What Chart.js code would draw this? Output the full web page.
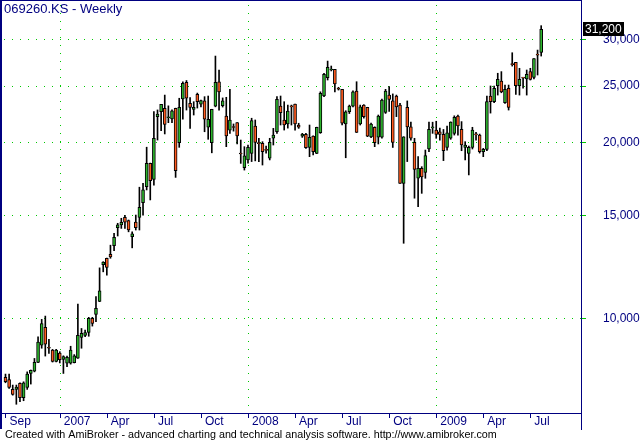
<!DOCTYPE html>
<html>
<head>
<meta charset="utf-8">
<title>069260.KS - Weekly</title>
<script src="https://cdn.jsdelivr.net/npm/chart.js@4.4.0/dist/chart.umd.min.js"></script>
<style>
  html, body { margin: 0; padding: 0; background: #ffffff; }
  #wrap { width: 642px; height: 443px; }
</style>
</head>
<body>
<div id="wrap"><canvas id="myChart" width="642" height="443"></canvas></div>
<script>
let chart_title = '069260.KS - Weekly';
let footer_text = 'Created with AmiBroker - advanced charting and technical analysis software. http://www.amibroker.com';

// weekly bars, mid Sep 2006 to Jul 2009
let opens = [
  7930, 7860, 7560, 7560, 7740, 7320, 7620, 8050, 8120, 8410,
  9000, 9650, 8920, 8830, 8440, 8720, 8510, 8380, 8380, 8400,
  8550, 9280, 9350, 9460, 10000, 10160, 10690, 12350, 12670, 12870,
  13310, 14290, 14450, 14880, 14690, 13790, 14610, 14880, 15770, 16800,
  18420, 17290, 22130, 22570, 22870, 22030, 21930, 22870, 19970, 23720,
  25330, 23320, 22770, 24160, 23250, 23540, 21220, 19970, 23070, 25390,
  23100, 22180, 20990, 21240, 21610, 19150, 18100, 18660, 19140, 21330,
  19950, 19920, 19400, 18790, 20320, 20850, 23070, 21840, 21500, 23020,
  23250, 21410, 20500, 20640, 19610, 20500, 19140, 20770, 24020, 25790,
  26590, 26660, 24740, 24640, 21500, 22560, 23070, 24470, 21500, 23160,
  22950, 20440, 21220, 20400, 20400, 22500, 24090, 23540, 24000, 23160,
  17020, 22950, 21250, 20000, 17360, 18050, 17770, 19480, 21170, 20990,
  20850, 20640, 19610, 20320, 20720, 22180, 21050, 19610, 19140, 19610,
  20640, 20580, 19270, 19450, 24000, 23470, 25000, 25460, 23370, 24740,
  27200, 27400, 25000, 25790, 25660, 26420, 25830, 28240, 28500
];
let highs = [
  8030, 8030, 7690, 7690, 7760, 7790, 8100, 8160, 8540, 9300,
  9960, 10090, 9210, 8850, 8850, 8770, 8630, 8620, 8960, 8670,
  10580, 9610, 9550, 10040, 10040, 10890, 12200, 12500, 12680, 13340,
  13970, 14540, 14830, 15000, 14730, 14060, 15020, 16760, 17010, 19620,
  18430, 22570, 22720, 23230, 24090, 23090, 22720, 22880, 23790, 25390,
  25510, 23850, 23470, 24280, 23630, 23940, 24000, 22780, 28090, 26590,
  23820, 23880, 24640, 21500, 21620, 20180, 19660, 19790, 21990, 21840,
  20320, 20050, 19710, 20320, 21130, 23940, 24000, 23470, 23160, 23160,
  23260, 21560, 20720, 20720, 21410, 20510, 21230, 24400, 26250, 27540,
  27010, 26670, 24840, 24650, 22650, 23160, 24500, 25390, 23160, 23200,
  22960, 21580, 21260, 22270, 23720, 24640, 24900, 24200, 24090, 23320,
  20450, 23540, 21650, 20320, 18900, 18170, 19400, 21650, 21650, 21730,
  21150, 21040, 21330, 21680, 22200, 22270, 21700, 20050, 19710, 21220,
  20800, 20660, 19530, 24000, 24970, 24970, 26250, 26420, 25060, 25060,
  28460, 27410, 26770, 25800, 26590, 26770, 27810, 28760, 31660
];
let lows = [
  7760, 7590, 7390, 7130, 7200, 7230, 7560, 7720, 8100, 8400,
  8890, 8620, 8710, 8420, 8420, 8390, 8050, 8270, 8350, 8390,
  8540, 8890, 9300, 9320, 9700, 9870, 10680, 12010, 11850, 12670,
  13050, 13830, 14250, 14250, 14060, 13200, 14160, 14160, 15020, 16580,
  15940, 16900, 20180, 20940, 20670, 21610, 21610, 17420, 19610, 21900,
  22710, 21130, 22270, 22890, 23000, 20850, 20240, 19190, 23000, 22710,
  22980, 19660, 20720, 20900, 19870, 18410, 17930, 18430, 18540, 18590,
  18540, 18290, 19160, 18660, 19790, 20720, 21410, 20990, 21150, 21410,
  20990, 21130, 20390, 19530, 18900, 19030, 19130, 20720, 23940, 25560,
  26490, 24400, 24570, 21410, 18820, 22400, 23000, 20790, 21410, 22000,
  20450, 20360, 19660, 19870, 20320, 22410, 22580, 19600, 22130, 17010,
  13440, 18540, 20180, 16050, 15520, 16360, 17360, 19270, 20720, 20320,
  20180, 18610, 19400, 20240, 20580, 20580, 19350, 18660, 17590, 19480,
  20180, 19170, 18900, 19350, 22440, 23390, 24090, 24310, 23320, 22710,
  27000, 24160, 24090, 24760, 24090, 25560, 25660, 26070, 28090
];
let closes = [
  7790, 7620, 7410, 7630, 7320, 7760, 8030, 8150, 8410, 9110,
  9800, 9030, 8890, 8440, 8830, 8500, 8600, 8580, 8830, 8630,
  9350, 9430, 9460, 10000, 9800, 10400, 11140, 12480, 12220, 12740,
  13760, 14450, 14600, 14610, 14160, 13950, 14290, 15480, 16580, 18420,
  17190, 20320, 22360, 23230, 21470, 22100, 22630, 17890, 22960, 25230,
  23790, 22950, 22950, 23470, 23570, 21900, 21900, 22770, 25330, 24400,
  23540, 20520, 21840, 21200, 20520, 19100, 18960, 19610, 21780, 20000,
  19900, 19270, 19380, 20000, 20580, 23700, 22470, 21410, 22620, 22990,
  21500, 21220, 20640, 19580, 20400, 19270, 21220, 24250, 26140, 26880,
  26660, 25160, 24650, 21560, 22560, 23070, 24400, 20800, 23000, 22130,
  20500, 21500, 19970, 22180, 23630, 24470, 23690, 20000, 23000, 17020,
  20440, 21250, 20320, 17980, 18050, 17460, 18980, 21050, 21190, 20640,
  20640, 19350, 20770, 21650, 22070, 21330, 19790, 19790, 19610, 20990,
  20590, 19270, 19450, 23470, 23470, 24740, 25630, 24400, 24640, 22950,
  27150, 25000, 25630, 25760, 26140, 25630, 27800, 28200, 31200
];

let tick_labels = ['Sep', '2007', 'Apr', 'Jul', 'Oct', '2008', 'Apr', 'Jul', 'Oct', '2009', 'Apr', 'Jul'];
let tick_bars = [0, 15, 28, 41, 54, 67, 80, 93, 106, 119, 132, 145];
let year_bars = [15, 67, 119];
let price_ticks = [10000, 15000, 20000, 25000, 30000];

let navy = '#000080';
let grid_green = '#00c800';
let up_color = '#2db42d';
let down_color = '#ff5a1e';
let font_family = '"Liberation Sans", Arial, sans-serif';

let last_price = closes[closes.length - 1];

let body_data = opens.map(function (o, i) { return { x: i, y: [o, closes[i]] }; });
let wick_data = highs.map(function (h, i) { return { x: i, y: [lows[i], h] }; });
let body_colors = opens.map(function (o, i) { return closes[i] >= o ? up_color : down_color; });

// AmiBroker-style frame, dotted grid, title, footer and last-price box
let amiPlugin = {
    id: 'ami',
    beforeDraw: function (chart) {
        let c = chart.ctx;
        c.save();
        c.fillStyle = '#ffffff';
        c.fillRect(0, 0, chart.width, chart.height);
        c.restore();
    },
    beforeDatasetsDraw: function (chart) {
        let c = chart.ctx;
        let a = chart.chartArea;
        let xs = chart.scales.x;
        let ys = chart.scales.y;
        c.save();
        c.strokeStyle = grid_green;
        c.lineWidth = 1;
        c.setLineDash([1, 7]);
        price_ticks.forEach(function (v) {
            let py = Math.round(ys.getPixelForValue(v)) + 0.5;
            c.beginPath();
            c.moveTo(a.left + 3, py);
            c.lineTo(a.right, py);
            c.stroke();
        });
        year_bars.forEach(function (b) {
            let px = Math.round(xs.getPixelForValue(b)) + 0.5;
            c.beginPath();
            c.moveTo(px, a.top + 4);
            c.lineTo(px, a.bottom);
            c.stroke();
        });
        c.restore();
    },
    afterDraw: function (chart) {
        let c = chart.ctx;
        let a = chart.chartArea;
        let xs = chart.scales.x;
        let ys = chart.scales.y;
        c.save();

        // frame
        c.strokeStyle = navy;
        c.lineWidth = 1;
        c.beginPath();
        c.moveTo(0.5, 0); c.lineTo(0.5, 429);
        c.moveTo(1.5, 0); c.lineTo(1.5, 429);
        c.moveTo(0, 0.5); c.lineTo(a.right + 1, 0.5);
        c.moveTo(a.right + 0.5, 0); c.lineTo(a.right + 0.5, 430);
        c.moveTo(0, a.bottom + 0.5); c.lineTo(a.right + 1, a.bottom + 0.5);
        c.stroke();

        // x tick marks
        c.beginPath();
        tick_bars.forEach(function (b) {
            let px = Math.round(xs.getPixelForValue(b)) + 0.5;
            c.moveTo(px, a.bottom + 1);
            c.lineTo(px, a.bottom + 5);
        });
        c.stroke();

        // y tick marks
        c.strokeStyle = grid_green;
        c.beginPath();
        price_ticks.forEach(function (v) {
            let py = Math.round(ys.getPixelForValue(v)) + 0.5;
            c.moveTo(a.right + 1, py);
            c.lineTo(a.right + 5, py);
        });
        c.stroke();

        // title
        c.fillStyle = navy;
        c.font = '13px ' + font_family;
        c.textBaseline = 'top';
        c.textAlign = 'left';
        c.fillText(chart_title, 4, 3);

        // footer
        c.fillStyle = '#000000';
        c.font = '10.75px ' + font_family;
        c.fillText(footer_text, 5, 430);

        // last price box
        let py = Math.round(ys.getPixelForValue(last_price));
        c.fillStyle = '#000000';
        c.fillRect(a.right + 2, py - 7, 41, 14);
        c.fillStyle = '#ffffff';
        c.font = '12px ' + font_family;
        c.textBaseline = 'middle';
        c.fillText(last_price.toLocaleString('en-US'), a.right + 4, py + 1);

        c.restore();
    }
};

let myChart = new Chart('myChart', {
    type: 'bar',
    data: {
        datasets: [
            {
                label: 'Body',
                data: body_data,
                backgroundColor: body_colors,
                borderColor: '#000000',
                borderWidth: 1,
                borderSkipped: false,
                barThickness: 3,
                minBarLength: 1,
                grouped: false,
                order: 0
            },
            {
                label: 'Wick',
                data: wick_data,
                backgroundColor: '#000000',
                borderWidth: 0,
                barThickness: 1,
                grouped: false,
                order: 1
            }
        ]
    },
    options: {
        responsive: false,
        animation: false,
        devicePixelRatio: 1,
        layout: {
            padding: { left: 1, top: 1, right: 0, bottom: 0 }
        },
        plugins: {
            legend: { display: false },
            tooltip: { enabled: false },
            title: { display: false }
        },
        scales: {
            x: {
                type: 'linear',
                min: -1.24,
                max: 159,
                bounds: 'data',
                offset: false,
                grid: { display: false, drawTicks: false, offset: false },
                border: { display: false },
                afterBuildTicks: function (scale) {
                    scale.ticks = tick_bars.map(function (b) { return { value: b }; });
                },
                afterFit: function (scale) {
                    scale.height = 30;
                    scale.paddingLeft = 0;
                    scale.paddingRight = 0;
                },
                ticks: {
                    autoSkip: false,
                    maxRotation: 0,
                    align: 'start',
                    labelOffset: 4,
                    padding: 1,
                    color: navy,
                    font: { family: font_family, size: 12 },
                    callback: function (value, index) { return tick_labels[index]; }
                }
            },
            y: {
                type: 'logarithmic',
                position: 'right',
                min: 6889,
                max: 34890,
                bounds: 'data',
                grid: { display: false, drawTicks: false },
                border: { display: false },
                afterBuildTicks: function (scale) {
                    scale.ticks = price_ticks.map(function (v) { return { value: v }; });
                },
                afterFit: function (scale) {
                    scale.width = 61;
                    scale.paddingTop = 0;
                    scale.paddingBottom = 0;
                },
                ticks: {
                    padding: 22,
                    color: navy,
                    font: { family: font_family, size: 12 },
                    callback: function (value) { return value.toLocaleString('en-US'); }
                }
            }
        }
    },
    plugins: [amiPlugin]
});
</script>
</body>
</html>
